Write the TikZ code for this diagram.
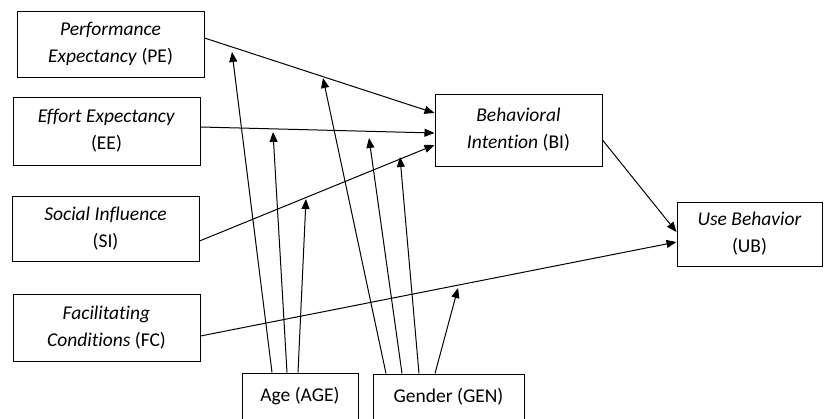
\documentclass[tikz,border=0pt]{standalone}
\usepackage{fontspec}
\setmainfont{Carlito}[Ligatures=NoCommon]
\usetikzlibrary{arrows.meta}

\begin{document}
\begin{tikzpicture}[x=1pt, y=-1pt,
  every node/.style={font=\fontsize{19.5}{27}\selectfont},
  box/.style={draw, line width=1pt, align=center, inner sep=0pt},
  link/.style={line width=1pt, -{Triangle[length=10pt, width=8pt]}}]
  \useasboundingbox (0, 0) rectangle (825, 418);

  \node[box, minimum width=187, minimum height=66] (pe) at (110.5, 44) {\textit{Performance}\\\textit{Expectancy} (PE)};
  \node[box, minimum width=187, minimum height=68] (ee) at (106.5, 131) {\textit{Effort Expectancy}\\(EE)};
  \node[box, minimum width=187, minimum height=65] (si) at (105.5, 228.5) {\textit{Social Influence}\\(SI)};
  \node[box, minimum width=187, minimum height=67] (fc) at (106.5, 327.5) {\textit{Facilitating}\\\textit{Conditions} (FC)};
  \node[box, minimum width=167, minimum height=72] (bi) at (518.5, 130) {\textit{Behavioral}\\\textit{Intention} (BI)};
  \node[box, minimum width=145, minimum height=64] (ub) at (749.5, 234) {\textit{Use Behavior}\\(UB)};
  \node[box, minimum width=116, minimum height=47] (age) at (300, 396.5) {Age (AGE)};
  \node[box, minimum width=151, minimum height=46] (gen) at (448.5, 397) {Gender (GEN)};

  \coordinate (pe1) at (232, 52);
  \coordinate (pe2) at (323, 78);
  \coordinate (ee1) at (273, 132);
  \coordinate (ee2) at (369, 138);
  \coordinate (si1) at (306, 199);
  \coordinate (si2) at (400, 157);
  \coordinate (fc1) at (458, 288);

  \draw[link] ([yshift=6]pe.east) -- ([yshift=17]bi.west);
  \draw[link] ([yshift=4]ee.east) -- ([yshift=-3]bi.west);
  \draw[link] ([yshift=-12.5]si.east) -- ([yshift=-15]bi.west);
  \draw[link] ([yshift=-10]bi.east) -- ([yshift=2]ub.west);
  \draw[link] ([yshift=-8.5]fc.east) -- ([yshift=-8]ub.west);

  \draw[link] ([xshift=-28]age.north) -- (pe1);
  \draw[link] ([xshift=-13]age.north) -- (ee1);
  \draw[link] ([xshift=-2]age.north) -- (si1);
  \draw[link] ([xshift=-62.5]gen.north) -- (pe2);
  \draw[link] ([xshift=-46.5]gen.north) -- (ee2);
  \draw[link] ([xshift=-29.5]gen.north) -- (si2);
  \draw[link] ([xshift=-13.5]gen.north) -- (fc1);
\end{tikzpicture}
\end{document}
